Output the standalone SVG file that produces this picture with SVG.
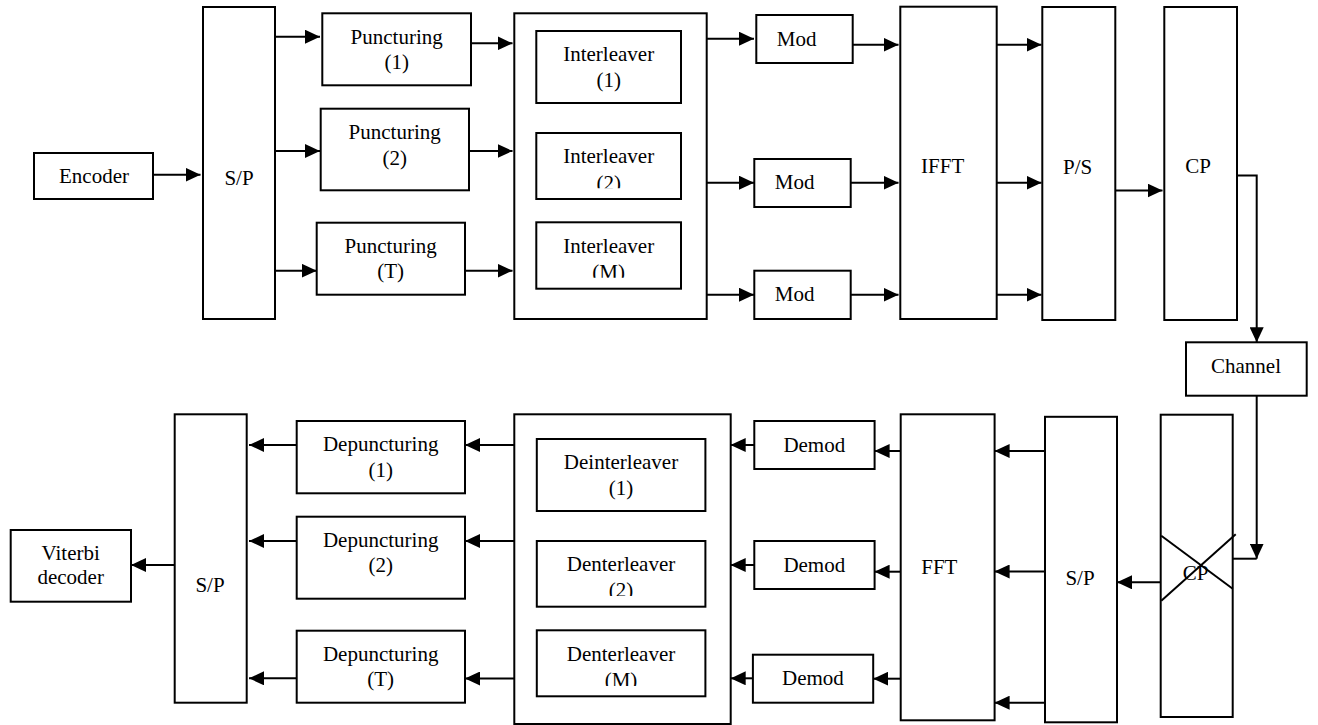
<svg xmlns="http://www.w3.org/2000/svg" width="1318" height="725" viewBox="0 0 1318 725">
<style>
.box{fill:#fff;stroke:#000;stroke-width:2}
.t{font-family:"Liberation Serif","Times New Roman",serif;font-size:21px;fill:#000;text-anchor:middle}
.c{fill:none;stroke:#000;stroke-width:2}
.a{marker-end:url(#ah)}
</style>
<defs>
<marker id="ah" markerUnits="userSpaceOnUse" markerWidth="15" markerHeight="14" refX="15" refY="7" orient="auto">
<path d="M0,0 L15,7 L0,14 z" fill="#000"/>
</marker>
<clipPath id="clipIl2"><rect x="536" y="133" width="145" height="55.3"/></clipPath>
<clipPath id="clipIlM"><rect x="536" y="222" width="145" height="55.7"/></clipPath>
<clipPath id="clipDil2"><rect x="536" y="541" width="169" height="55"/></clipPath>
<clipPath id="clipDilM"><rect x="536" y="630" width="169" height="56"/></clipPath>
</defs>
<rect width="1318" height="725" fill="#fff"/>

<g id="connectors">
<line class="c a" x1="153" y1="174.7" x2="200.5" y2="174.7"/>
<line class="c a" x1="275" y1="36.7" x2="320" y2="36.7"/>
<line class="c a" x1="275" y1="151" x2="320" y2="151"/>
<line class="c a" x1="275" y1="270.7" x2="316.7" y2="270.7"/>
<line class="c a" x1="471" y1="43.3" x2="512.5" y2="43.3"/>
<line class="c a" x1="469" y1="151" x2="512.5" y2="151"/>
<line class="c a" x1="465" y1="270.7" x2="512.5" y2="270.7"/>
<line class="c a" x1="706.7" y1="38.7" x2="754" y2="38.7"/>
<line class="c a" x1="706.7" y1="182.7" x2="754" y2="182.7"/>
<line class="c a" x1="706.7" y1="294.7" x2="754" y2="294.7"/>
<line class="c a" x1="852.7" y1="44.7" x2="898.5" y2="44.7"/>
<line class="c a" x1="850.7" y1="182.7" x2="898.5" y2="182.7"/>
<line class="c a" x1="850.7" y1="294.7" x2="898.5" y2="294.7"/>
<line class="c a" x1="996.7" y1="44.7" x2="1041.5" y2="44.7"/>
<line class="c a" x1="996.7" y1="182.7" x2="1041.5" y2="182.7"/>
<line class="c a" x1="996.7" y1="294.7" x2="1041.5" y2="294.7"/>
<line class="c a" x1="1115.3" y1="190.5" x2="1162.5" y2="190.5"/>
<path class="c a" d="M1237,175.6 H1256.7 V342.3"/>
<line class="c a" x1="1256.7" y1="395.7" x2="1256.7" y2="558.7"/>
<line class="c" x1="1256.7" y1="558.7" x2="1232.7" y2="558.7"/>
<line class="c a" x1="1160.7" y1="582.3" x2="1117" y2="582.3"/>
<line class="c a" x1="1045" y1="451" x2="994.6" y2="451"/>
<line class="c a" x1="1045" y1="571.5" x2="994.6" y2="571.5"/>
<line class="c a" x1="1045" y1="702.7" x2="994.6" y2="702.7"/>
<line class="c a" x1="900.7" y1="451" x2="874.6" y2="451"/>
<line class="c a" x1="900.7" y1="571.7" x2="874.6" y2="571.7"/>
<line class="c a" x1="900.7" y1="678.7" x2="873.2" y2="678.7"/>
<line class="c a" x1="754.3" y1="445" x2="730.7" y2="445"/>
<line class="c a" x1="754.3" y1="565" x2="730.7" y2="565"/>
<line class="c a" x1="752.9" y1="678.3" x2="730.7" y2="678.3"/>
<line class="c a" x1="514.3" y1="445" x2="465" y2="445"/>
<line class="c a" x1="514.3" y1="541" x2="465" y2="541"/>
<line class="c a" x1="514.3" y1="678.5" x2="465" y2="678.5"/>
<line class="c a" x1="296.7" y1="445" x2="249" y2="445"/>
<line class="c a" x1="296.7" y1="541" x2="249" y2="541"/>
<line class="c a" x1="296.7" y1="678.3" x2="249" y2="678.3"/>
<line class="c a" x1="174.7" y1="565" x2="131" y2="565"/>
</g>

<g id="encoder"><rect class="box" x="34" y="153" width="119" height="46"/><text class="t" x="94" y="182.7">Encoder</text></g>
<g id="sp-tx"><rect class="box" x="203" y="7" width="72" height="312"/><text class="t" x="239" y="185">S/P</text></g>
<g id="puncturing-1"><rect class="box" x="322.3" y="13.3" width="148.7" height="72"/><text class="t" x="396.7" y="44.3">Puncturing</text><text class="t" x="396.7" y="69.3">(1)</text></g>
<g id="puncturing-2"><rect class="box" x="320.7" y="108.7" width="148.3" height="81.6"/><text class="t" x="394.7" y="139.3">Puncturing</text><text class="t" x="394.7" y="165">(2)</text></g>
<g id="puncturing-t"><rect class="box" x="316.7" y="222.7" width="148.3" height="72"/><text class="t" x="390.7" y="253.3">Puncturing</text><text class="t" x="390.7" y="278.3">(T)</text></g>

<g id="interleavers">
<rect class="box" x="514.3" y="13.3" width="192.4" height="305.7"/>
<g id="interleaver-1"><rect class="box" x="536.3" y="31" width="144.7" height="72"/><text class="t" x="608.7" y="61.3">Interleaver</text><text class="t" x="608.7" y="87.3">(1)</text></g>
<g id="interleaver-2"><rect class="box" x="536.3" y="133" width="144.7" height="66"/><text class="t" x="608.7" y="163.3">Interleaver</text><text class="t" x="608.7" y="190" clip-path="url(#clipIl2)">(2)</text></g>
<g id="interleaver-m"><rect class="box" x="536.3" y="222.3" width="144.7" height="66.4"/><text class="t" x="608.7" y="253.3">Interleaver</text><text class="t" x="608.7" y="279" clip-path="url(#clipIlM)">(M)</text></g>
</g>

<g id="mod-1"><rect class="box" x="756.3" y="15" width="96.4" height="48"/><text class="t" x="796.7" y="45.7">Mod</text></g>
<g id="mod-2"><rect class="box" x="754.3" y="159" width="96.4" height="48"/><text class="t" x="794.7" y="189.3">Mod</text></g>
<g id="mod-3"><rect class="box" x="754.3" y="270.7" width="96.4" height="48.3"/><text class="t" x="794.7" y="300.7">Mod</text></g>
<g id="ifft"><rect class="box" x="900.3" y="6.7" width="96.4" height="312.3"/><text class="t" x="942.7" y="173.3">IFFT</text></g>
<g id="ps"><rect class="box" x="1042.3" y="7" width="73" height="313"/><text class="t" x="1077.7" y="174">P/S</text></g>
<g id="cp-tx"><rect class="box" x="1164.3" y="7" width="72.7" height="313"/><text class="t" x="1198" y="173">CP</text></g>
<g id="channel"><rect class="box" x="1186" y="342.3" width="120.7" height="53.4"/><text class="t" x="1246" y="373.3">Channel</text></g>
<g id="cp-rx"><rect class="box" x="1160.7" y="414.7" width="72" height="302.3"/><text class="t" x="1195.7" y="580">CP</text>
<line class="c" x1="1161.3" y1="535.7" x2="1232.7" y2="588.7"/><line class="c" x1="1161.3" y1="600.7" x2="1235.7" y2="534.3"/></g>
<g id="sp-rx-right"><rect class="box" x="1045" y="416.8" width="72" height="305.5"/><text class="t" x="1080" y="584.6">S/P</text></g>
<g id="fft"><rect class="box" x="900.7" y="414.3" width="93.9" height="306"/><text class="t" x="939.3" y="574.3">FFT</text></g>
<g id="demod-1"><rect class="box" x="754.3" y="421" width="120.3" height="48"/><text class="t" x="814.3" y="451.7">Demod</text></g>
<g id="demod-2"><rect class="box" x="754.3" y="541" width="120.3" height="48"/><text class="t" x="814.3" y="571.7">Demod</text></g>
<g id="demod-3"><rect class="box" x="752.9" y="654.7" width="120.3" height="48"/><text class="t" x="812.9" y="685">Demod</text></g>

<g id="deinterleavers">
<rect class="box" x="514.3" y="414.3" width="216.4" height="309.7"/>
<g id="deinterleaver-1"><rect class="box" x="536.8" y="439" width="168.6" height="72"/><text class="t" x="621" y="468.7">Deinterleaver</text><text class="t" x="621" y="495">(1)</text></g>
<g id="deinterleaver-2"><rect class="box" x="536.8" y="541" width="168.6" height="65.7"/><text class="t" x="621" y="570.7">Denterleaver</text><text class="t" x="621" y="597" clip-path="url(#clipDil2)">(2)</text></g>
<g id="deinterleaver-m"><rect class="box" x="536.8" y="630.3" width="168.6" height="66"/><text class="t" x="621" y="687" clip-path="url(#clipDilM)">(M)</text><text class="t" x="621" y="660.7">Denterleaver</text></g>
</g>

<g id="depuncturing-1"><rect class="box" x="296.7" y="421" width="168.3" height="72.3"/><text class="t" x="380.7" y="451">Depuncturing</text><text class="t" x="380.7" y="476.7">(1)</text></g>
<g id="depuncturing-2"><rect class="box" x="296.7" y="516.7" width="168.3" height="82"/><text class="t" x="380.7" y="546.7">Depuncturing</text><text class="t" x="380.7" y="572">(2)</text></g>
<g id="depuncturing-t"><rect class="box" x="296.7" y="630.7" width="168.3" height="72"/><text class="t" x="380.7" y="660.7">Depuncturing</text><text class="t" x="380.7" y="686">(T)</text></g>
<g id="sp-rx"><rect class="box" x="174.7" y="414.3" width="72" height="288.4"/><text class="t" x="210" y="591.7">S/P</text></g>
<g id="viterbi"><rect class="box" x="10.7" y="530" width="120.3" height="71.7"/><text class="t" x="70.7" y="560">Viterbi</text><text class="t" x="70.7" y="584">decoder</text></g>
</svg>
